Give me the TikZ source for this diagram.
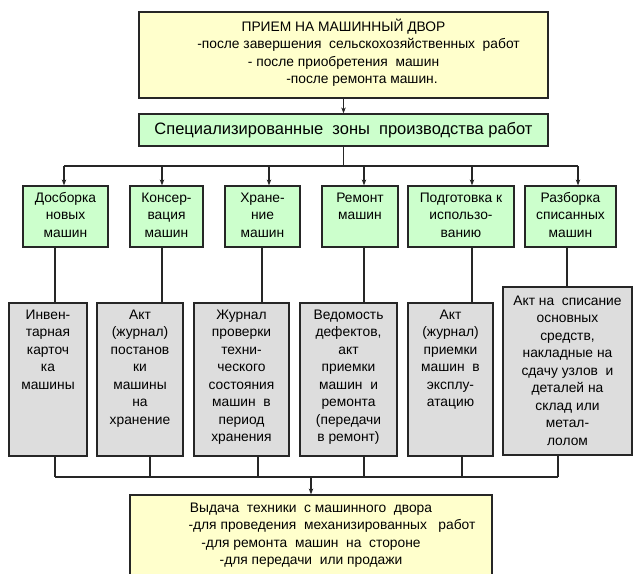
\documentclass[tikz,border=0pt]{standalone}
\usepackage{fontspec}
\setmainfont{Liberation Sans}
\usetikzlibrary{arrows.meta}

\definecolor{paleyellow}{HTML}{FFFFCC}
\definecolor{palegreen}{HTML}{CCFFCC}
\definecolor{palegray}{HTML}{DDDDDD}

% text set from the top of a fixed-size box
\newcommand{\cell}[4]{\parbox[c][#2][t]{#1}{\centering\vspace*{#3}\strut#4}}

\begin{document}
\begin{tikzpicture}[
    x=1pt, y=-1pt,
    every node/.style={draw=black!85, line width=1.2pt, inner sep=0pt, font=\fontsize{13.8}{17.5}\selectfont},
    yard_box/.style={fill=paleyellow},
    zone_box/.style={fill=palegreen},
    doc_box/.style={fill=palegray},
    edge/.style={-{Stealth[length=6pt,width=4.5pt]}, line width=1.2pt, color=black!85},
    bus/.style={line width=1.2pt, color=black!85}
]
\useasboundingbox (0,0) rectangle (634,573);
\clip (0,0) rectangle (634,573);

% Приём и зоны
\node[yard_box] (priem) at (343.5,55) {\cell{409pt}{86pt}{7pt}{ПРИЕМ НА МАШИННЫЙ ДВОР\\
    \hspace*{30pt}-после завершения\ \ сельскохозяйственных\ \ работ\\
    - после приобретения\ \ машин\\
    \hspace*{37pt}-после ремонта машин.}};
\node[zone_box, font=\fontsize{16.5}{18}\selectfont, minimum width=409pt, minimum height=32pt] (zones) at (343.5,130)
    {Специализированные\ \ зоны\ \ производства работ};

% Зоны
\node[zone_box] (g1) at (65.5,216.5) {\cell{85pt}{61pt}{4pt}{Досборка\\новых\\машин}};
\node[zone_box] (g2) at (166.5,216.5) {\cell{73pt}{61pt}{4pt}{Консер-\\вация\\машин}};
\node[zone_box] (g3) at (262.5,216.5) {\cell{75pt}{61pt}{4pt}{Хране-\\ние\\машин}};
\node[zone_box] (g4) at (360,216.5) {\cell{76pt}{61pt}{4pt}{Ремонт\\машин}};
\node[zone_box] (g5) at (461,216.5) {\cell{106pt}{61pt}{4pt}{Подготовка к\\использо-\\ванию}};
\node[zone_box] (g6) at (570.5,216.5) {\cell{91pt}{61pt}{4pt}{Разборка\\списанных\\машин}};

% Документы
\node[doc_box] (d1) at (48,379.5) {\cell{78pt}{153pt}{4pt}{Инвен-\\тарная\\карточ\\ка\\машины}};
\node[doc_box] (d2) at (140,379.5) {\cell{86pt}{153pt}{4pt}{Акт\\(журнал)\\постанов\\ки\\машины\\на\\хранение}};
\node[doc_box] (d3) at (241.5,379.5) {\cell{95pt}{153pt}{4pt}{Журнал\\проверки\\техни-\\ческого\\состояния\\машин\ \ в\\период\\хранения}};
\node[doc_box] (d4) at (348.5,379.5) {\cell{97pt}{153pt}{4pt}{Ведомость\\дефектов,\\акт\\приемки\\машин\ \ и\\ремонта\\(передачи\\в ремонт)}};
\node[doc_box] (d5) at (450.5,379.5) {\cell{85pt}{153pt}{4pt}{Акт\\(журнал)\\приемки\\машин\ \ в\\эксплу-\\атацию}};
\node[doc_box] (d6) at (567.5,371) {\cell{129pt}{168pt}{6pt}{Акт на\ \ списание\\основных\\средств,\\накладные на\\сдачу узлов\ \ и\\деталей на\\склад или\\метал-\\лолом}};

% Выдача
\node[yard_box] (vydacha) at (311,545) {\cell{362pt}{100pt}{5pt}{Выдача\ \ техники\ \ с машинного\ \ двора\\
    \hspace*{42pt}-для проведения\ \ механизированных\ \ \ работ\\
    -для ремонта\ \ машин\ \ на\ \ стороне\\
    -для передачи\ \ или продажи}};

% Точки шин
\coordinate (t1) at (64,166);
\coordinate (t2) at (162,166);
\coordinate (t3) at (269,166);
\coordinate (t4) at (364,166);
\coordinate (t5) at (472,166);
\coordinate (t6) at (578,166);

\coordinate (a1) at (55,0);
\coordinate (a2) at (162,0);
\coordinate (a3) at (262,0);
\coordinate (a4) at (364,0);
\coordinate (a5) at (472,0);
\coordinate (a6) at (567,0);

\coordinate (b1) at (55,477);
\coordinate (b2) at (150,477);
\coordinate (b3) at (258,477);
\coordinate (b4) at (364,477);
\coordinate (b5) at (462,477);
\coordinate (b6) at (558,477);

% Связи
\draw[edge] (priem.south -| zones.north) -- (zones.north);
\draw[bus] (zones.south) -- (zones.south |- t1);
\draw[bus] (t1) -- (t6);

\draw[edge] (t1) -- (t1 |- g1.north);
\draw[edge] (t2) -- (t2 |- g2.north);
\draw[edge] (t3) -- (t3 |- g3.north);
\draw[edge] (t4) -- (t4 |- g4.north);
\draw[edge] (t5) -- (t5 |- g5.north);
\draw[edge] (t6) -- (t6 |- g6.north);

\draw[bus] (g1.south -| a1) -- (d1.north -| a1);
\draw[bus] (g2.south -| a2) -- (d2.north -| a2);
\draw[bus] (g3.south -| a3) -- (d3.north -| a3);
\draw[bus] (g4.south -| a4) -- (d4.north -| a4);
\draw[bus] (g5.south -| a5) -- (d5.north -| a5);
\draw[bus] (g6.south -| a6) -- (d6.north -| a6);

\draw[bus] (d1.south -| b1) -- (b1);
\draw[bus] (d2.south -| b2) -- (b2);
\draw[bus] (d3.south -| b3) -- (b3);
\draw[bus] (d4.south -| b4) -- (b4);
\draw[bus] (d5.south -| b5) -- (b5);
\draw[bus] (d6.south -| b6) -- (b6);
\draw[bus] (b1) -- (b6);

\draw[edge] (vydacha.north |- b1) -- (vydacha.north);

\end{tikzpicture}
\end{document}
